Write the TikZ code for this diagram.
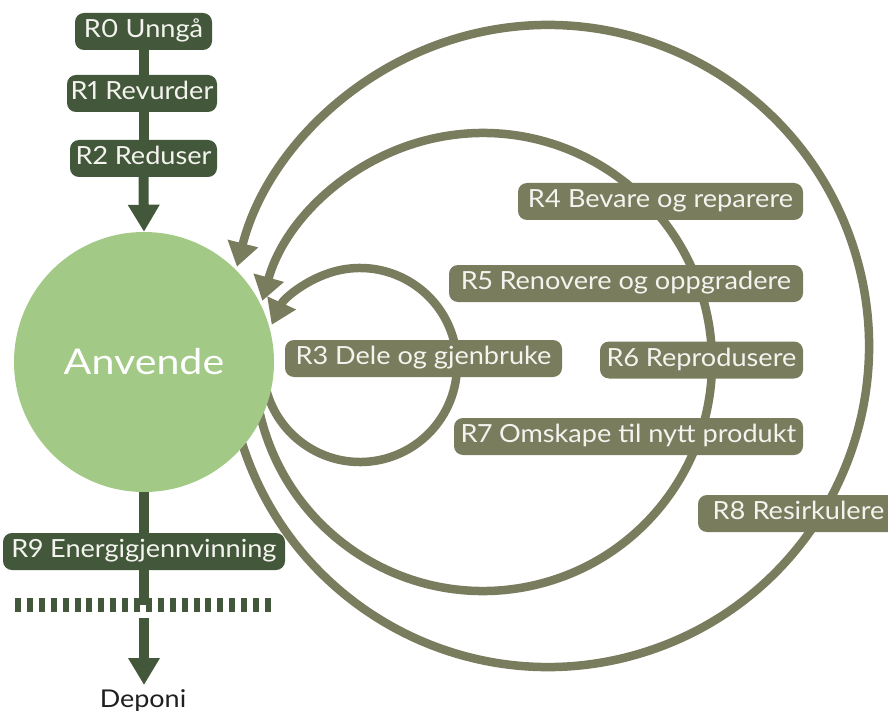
\documentclass[tikz,border=0pt]{standalone}
\usepackage{fontspec}
\setmainfont{Lato}
\newfontfamily\boxfam[FakeStretch=1.085,Numbers=Proportional]{Lato}
\newfontfamily\bigfam[FakeStretch=1.16]{Lato}
\newfontfamily\depfam[FakeStretch=1.1]{Lato}
\usetikzlibrary{arrows.meta,backgrounds}
\definecolor{dkgreen}{HTML}{43573B}
\definecolor{olive}{HTML}{7A7C5E}
\definecolor{ltgreen}{HTML}{A3C986}
\definecolor{boxtext}{HTML}{F4F4EF}
\begin{document}
\begin{tikzpicture}[x=1pt,y=-1pt,
  boxfont/.style={font=\boxfam\fontsize{25pt}{29pt}\selectfont},
  dbox/.style={boxfont, fill=dkgreen, text=boxtext, rounded corners=9pt,
    minimum height=37pt, inner xsep=0pt, inner ysep=0pt,
    text height=17.5pt, text depth=5pt},
  obox/.style={dbox, fill=olive},
  dkline/.style={draw=dkgreen, line width=10pt},
  dkarrow/.style={dkline, -{Triangle[width=30pt,length=27pt]}},
  loopline/.style={draw=olive, line width=8.5pt, -{Triangle[width=30pt,length=24pt]}}]
\useasboundingbox (0,0) rectangle (888,711);
\clip (0,0) rectangle (888,711);

% main circle
\node[circle, fill=ltgreen, minimum size=260pt, inner sep=0pt, text=white,
      font=\bigfam\fontsize{35.5pt}{40pt}\selectfont] (use) at (144,362) {Anvende};

% loop centres
\coordinate (c8) at (548,346);
\coordinate (c4) at (483,362);
\coordinate (c3) at (360,365);

\begin{scope}[on background layer]
  \draw[loopline] (c8) ++(163:321) arc[start angle=163, end angle=-165.7, radius=321];
  \draw[loopline] (c4) ++(167:229) arc[start angle=167, end angle=-164.5, radius=229];
  \draw[loopline] (c3) ++(165:97) arc[start angle=165, end angle=-155.5, radius=97];
\end{scope}

% top chain
\node[dbox, minimum width=137pt] (r0) at (143.5,31.5) {R0 Unngå};
\node[dbox, minimum width=150pt] (r1) at (142,93.5) {R1 Revurder};
\node[dbox, minimum width=147pt] (r2) at (143.5,158.5) {R2 Reduser};
\begin{scope}[on background layer]
  \draw[dkline] (r0.center) -- (r2.center);
\end{scope}
\draw[dkarrow] (r2.south) -- (use.north);

% loop labels
\node[obox, minimum width=277pt] (r3) at (423.5,358.5) {R3 Dele og gjenbruke};
\node[obox, minimum width=285pt] (r4) at (660.5,201.5) {R4 Bevare og reparere};
\node[obox, minimum width=354pt] (r5) at (626,283.5) {R5 Renovere og oppgradere};
\node[obox, minimum width=203pt] (r6) at (701.5,360) {R6 Reprodusere};
\node[obox, minimum width=349pt] (r7) at (628.5,436.5) {R7 Omskape til nytt produkt};
\node[obox, minimum width=201pt] (r8) at (798.5,513.5) {R8 Resirkulere};

% bottom chain
\node[dbox, minimum width=282pt] (r9) at (144,551.5) {R9 Energigjennvinning};
\coordinate (bar) at (144,605);
\begin{scope}[on background layer]
  \draw[dkline] (use.south) -- (bar);
\end{scope}
\draw[draw=dkgreen, line width=14pt, dash pattern=on 6pt off 5.9pt] (15,605) -- (271,605);
\coordinate (dep0) at (144,618);
\node[text=black!88, font=\depfam\fontsize{24.5pt}{28pt}\selectfont, inner sep=0pt, anchor=north] (dep) at (143,689) {Deponi};
\draw[dkarrow] (dep0) -- ([yshift=4pt]dep0 |- dep.north);
\end{tikzpicture}
\end{document}
